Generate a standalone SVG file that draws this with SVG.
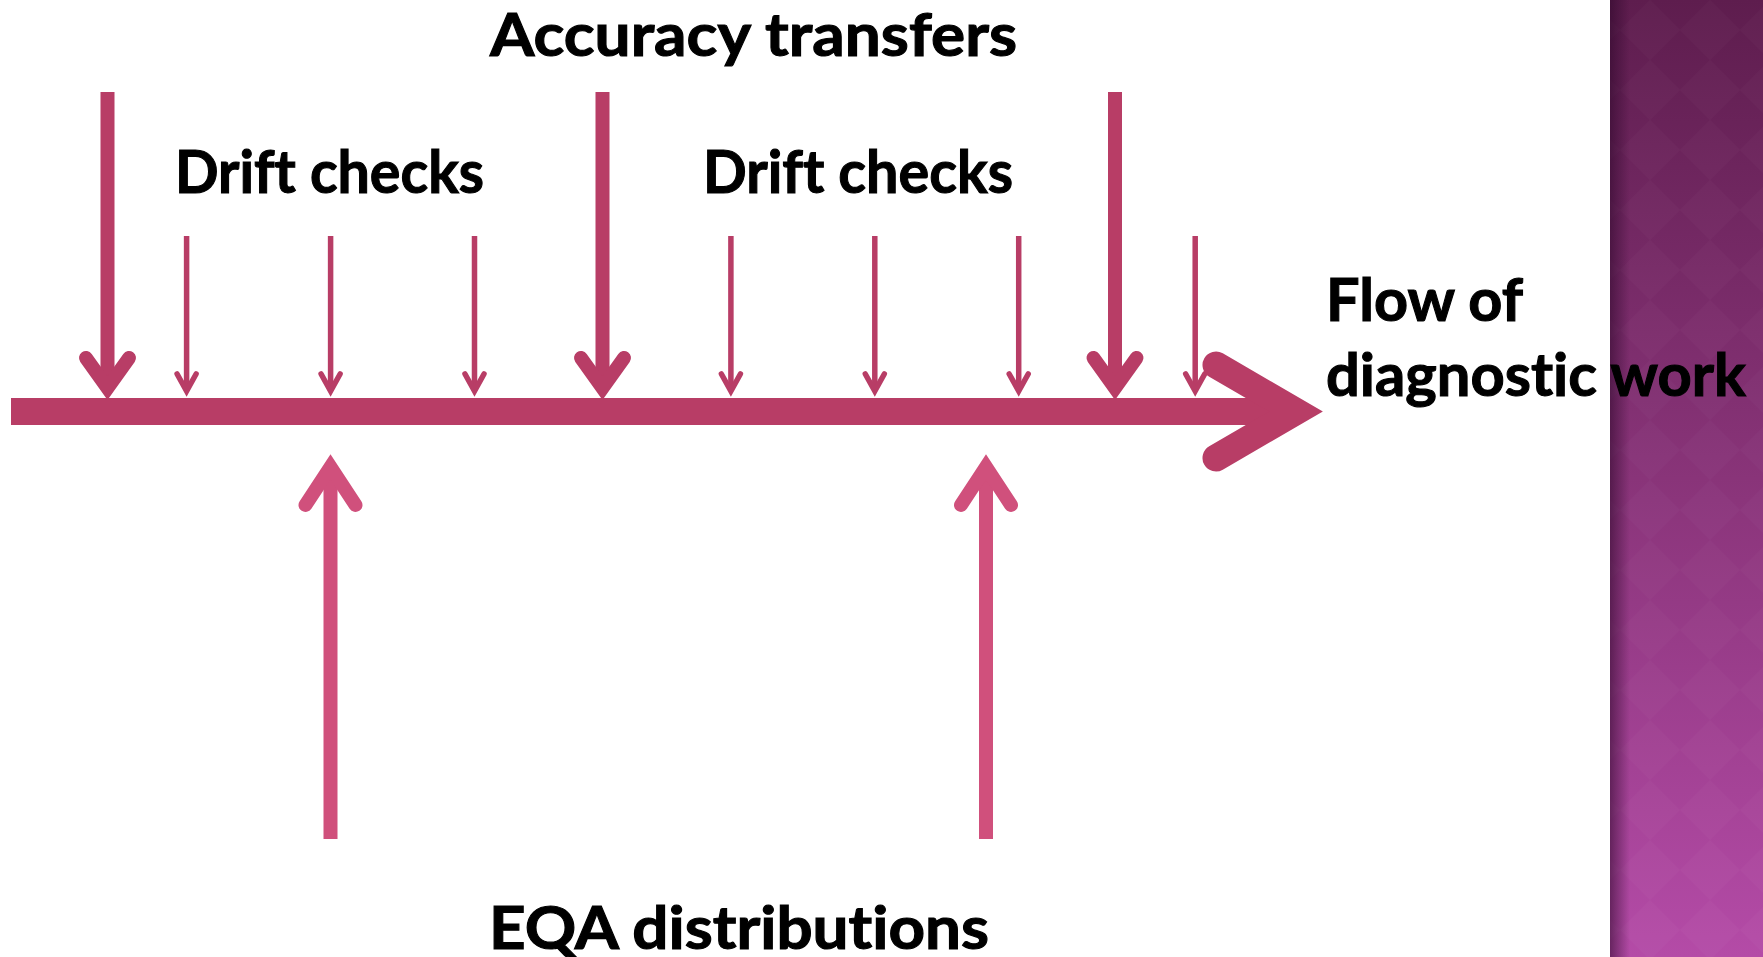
<svg xmlns="http://www.w3.org/2000/svg" width="1763" height="957" viewBox="0 0 1763 957">
  <defs>
    <linearGradient id="panelFill" x1="0" y1="0" x2="0" y2="1">
      <stop offset="0" stop-color="#5e1d4e"/>
      <stop offset="0.5" stop-color="#893479"/>
      <stop offset="1" stop-color="#b44ba7"/>
    </linearGradient>
    <linearGradient id="panelEdge" x1="0" y1="0" x2="1" y2="0">
      <stop offset="0" stop-color="#2a0628" stop-opacity="0.55"/>
      <stop offset="1" stop-color="#2a0628" stop-opacity="0"/>
    </linearGradient>
    <pattern id="diamonds" width="60" height="60" patternUnits="userSpaceOnUse">
      <path d="M30 0 L60 30 L30 60 L0 30 Z" fill="#ffffff" fill-opacity="0.018"/>
    </pattern>
  </defs>
  <style>
    .lbl { font-family: Lato, "Open Sans", "DejaVu Sans", sans-serif; font-weight: 700; font-size: 60px; fill: #000000; stroke: #000000; stroke-width: 1.1; font-variant-ligatures: none; font-feature-settings: "liga" 0, "clig" 0; }
    .down { stroke: #b83d66; fill: none; }
    .up { stroke: #d0507c; fill: none; }
    .big { stroke-width: 14; }
    .small { stroke-width: 5.5; }
    .head { stroke-linecap: round; stroke-linejoin: miter; stroke-miterlimit: 10; }
  </style>

  <rect width="1763" height="957" fill="#ffffff"/>

  <!-- decorative side panel -->
  <g id="side-panel">
    <rect x="1610" y="0" width="153" height="957" fill="url(#panelFill)"/>
    <rect x="1610" y="0" width="153" height="957" fill="url(#diamonds)"/>
    <rect x="1610" y="0" width="20" height="957" fill="url(#panelEdge)"/>
  </g>

  <g id="connectors">
    <!-- main timeline: flow of diagnostic work -->
    <g id="flow-line">
      <line x1="11" y1="411.5" x2="1296" y2="411.5" stroke="#b83d66" stroke-width="27"/>
      <polyline points="1216,365 1296,411.5 1216,458" fill="none" stroke="#b83d66" stroke-width="27" stroke-linecap="round" stroke-linejoin="miter" stroke-miterlimit="10"/>
    </g>

    <!-- accuracy transfers (large downward arrows) -->
    <g id="accuracy-arrows" class="down">
      <line class="big" x1="107.5" y1="92" x2="107.5" y2="388"/>
      <polyline class="big head" points="86,358 107.5,388 129,358"/>
      <line class="big" x1="602.5" y1="92" x2="602.5" y2="388"/>
      <polyline class="big head" points="581,358 602.5,388 624,358"/>
      <line class="big" x1="1115" y1="92" x2="1115" y2="388"/>
      <polyline class="big head" points="1093.5,358 1115,388 1136.5,358"/>
    </g>

    <!-- drift checks (small downward arrows) -->
    <g id="drift-arrows" class="down">
      <line class="small" x1="186.6" y1="236" x2="186.6" y2="391"/>
      <polyline class="small head" points="177.1,374 186.6,391 196.1,374"/>
      <line class="small" x1="330.6" y1="236" x2="330.6" y2="391"/>
      <polyline class="small head" points="321.1,374 330.6,391 340.1,374"/>
      <line class="small" x1="474.5" y1="236" x2="474.5" y2="391"/>
      <polyline class="small head" points="465,374 474.5,391 484,374"/>
      <line class="small" x1="730.9" y1="236" x2="730.9" y2="391"/>
      <polyline class="small head" points="721.4,374 730.9,391 740.4,374"/>
      <line class="small" x1="874.8" y1="236" x2="874.8" y2="391"/>
      <polyline class="small head" points="865.3,374 874.8,391 884.3,374"/>
      <line class="small" x1="1018.7" y1="236" x2="1018.7" y2="391"/>
      <polyline class="small head" points="1009.2,374 1018.7,391 1028.2,374"/>
      <line class="small" x1="1195.2" y1="236" x2="1195.2" y2="391"/>
      <polyline class="small head" points="1185.7,374 1195.2,391 1204.7,374"/>
    </g>

    <!-- EQA distributions (upward arrows) -->
    <g id="eqa-arrows" class="up">
      <line class="big" x1="330.5" y1="839" x2="330.5" y2="467"/>
      <polyline class="big head" points="305.5,505 330.5,467 355.5,505"/>
      <line class="big" x1="986" y1="839" x2="986" y2="467"/>
      <polyline class="big head" points="961,505 986,467 1011,505"/>
    </g>
  </g>

  <g id="label-accuracy">
    <text class="lbl" x="490" y="56" textLength="527" lengthAdjust="spacingAndGlyphs">Accuracy transfers</text>
  </g>
  <g id="label-drift-1">
    <text class="lbl" x="175" y="193" textLength="309" lengthAdjust="spacingAndGlyphs">Drift checks</text>
  </g>
  <g id="label-drift-2">
    <text class="lbl" x="703" y="193" textLength="310" lengthAdjust="spacingAndGlyphs">Drift checks</text>
  </g>
  <g id="label-flow">
    <text class="lbl" x="1326" y="321" textLength="197" lengthAdjust="spacingAndGlyphs">Flow of</text>
    <text class="lbl" x="1326" y="396" textLength="420" lengthAdjust="spacingAndGlyphs">diagnostic work</text>
  </g>
  <g id="label-eqa">
    <text class="lbl" x="489" y="949" textLength="500" lengthAdjust="spacingAndGlyphs">EQA distributions</text>
  </g>
</svg>
